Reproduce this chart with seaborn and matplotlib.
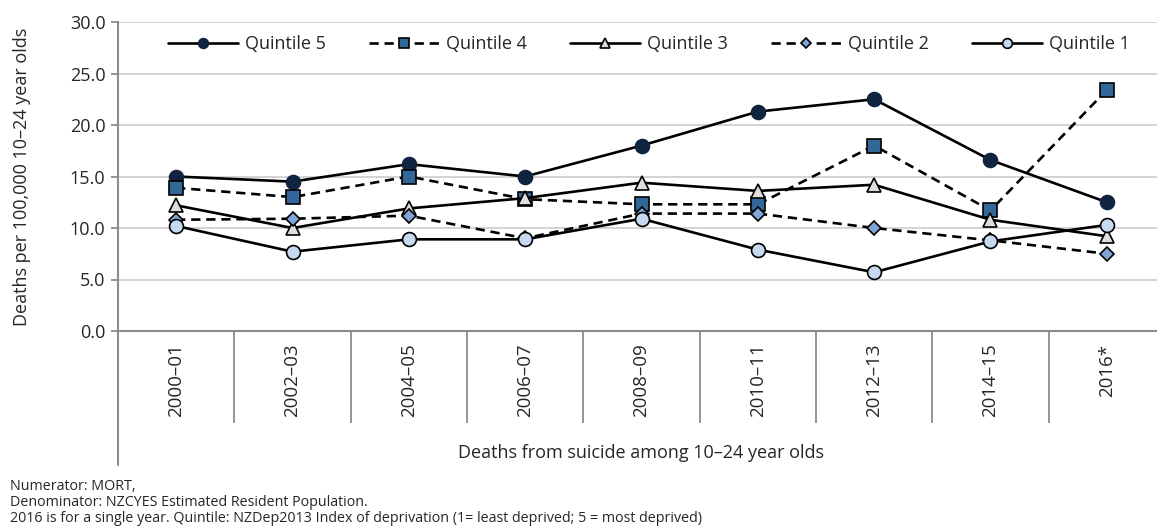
import pandas as pd
import seaborn as sns
import matplotlib.pyplot as plt

periods = ['2000–01', '2002–03', '2004–05', '2006–07', '2008–09',
           '2010–11', '2012–13', '2014–15', '2016*']
quintile_5 = [15.0, 14.5, 16.2, 15.0, 18.0, 21.3, 22.5, 16.6, 12.5]
quintile_4 = [13.9, 13.0, 15.0, 12.8, 12.3, 12.3, 18.0, 11.7, 23.4]
quintile_3 = [12.2, 10.0, 11.9, 12.9, 14.4, 13.6, 14.2, 10.8, 9.2]
quintile_2 = [10.8, 10.9, 11.2, 9.0, 11.4, 11.4, 10.0, 8.8, 7.5]
quintile_1 = [10.2, 7.7, 8.9, 8.9, 10.9, 7.9, 5.7, 8.7, 10.3]

sns.set_style('white')
plt.rcParams['font.family'] = ['Open Sans', 'DejaVu Sans']

fig = plt.figure(figsize=(11.57, 5.28), dpi=100)
ax = fig.add_axes([118 / 1157, 197 / 528, 1047 / 1157, 309 / 528])

df = pd.DataFrame({'pos': range(len(periods)), 'Quintile 5': quintile_5,
                   'Quintile 4': quintile_4, 'Quintile 3': quintile_3,
                   'Quintile 2': quintile_2, 'Quintile 1': quintile_1})

# series styles: marker, face colour, dashed?
styles = {
    'Quintile 5': ('o', '#10233F', False),
    'Quintile 4': ('s', '#336699', True),
    'Quintile 3': ('^', '#E0DEDB', False),
    'Quintile 2': ('D', '#7FA6D6', True),
    'Quintile 1': ('o', '#C6D9F0', False),
}
sizes = {'o': 10, 's': 10, '^': 10, 'D': 7.5}

for name, (mk, fc, dashed) in styles.items():
    sns.lineplot(data=df, x='pos', y=name, ax=ax, color='black', lw=1.9,
                 linestyle=(0, (3.5, 2.2)) if dashed else '-',
                 marker=mk, markersize=sizes[mk], markerfacecolor=fc,
                 markeredgecolor='black' if fc != '#10233F' else fc,
                 markeredgewidth=1.2, label=name, zorder=3)

ax.set_xlim(-0.5, 8.5)
ax.set_ylim(0, 30)
ax.set_yticks(range(0, 31, 5))
ax.set_yticklabels([f'{v:.1f}' for v in range(0, 31, 5)], fontsize=13)
ax.set_xticks(range(len(periods)))
ax.set_xticklabels(periods, rotation=90, fontsize=13.5, va='top')
ax.tick_params(axis='x', length=0, pad=9)
ax.set_xticks([i - 0.5 for i in range(len(periods) + 1)], minor=True)
ax.tick_params(axis='x', which='minor', length=66, width=1.3, color='#8C8C8C',
               direction='out', bottom=True)
ax.tick_params(axis='y', length=5, width=1.3, color='#8C8C8C', left=True,
               direction='out', pad=4)
ax.grid(axis='y', color='#D0D0D0', lw=1.3)
ax.grid(axis='x', visible=False)
for s in ['top', 'right']:
    ax.spines[s].set_visible(False)
for s in ['left', 'bottom']:
    ax.spines[s].set_color('#8C8C8C')
    ax.spines[s].set_linewidth(1.5)
ax.axvline(-0.5, ymin=-0.434, ymax=0, color='#8C8C8C', lw=1.5, clip_on=False)

ax.set_xlabel('Deaths from suicide among 10–24 year olds', fontsize=13,
              labelpad=12)
ax.set_ylabel('Deaths per 100,000 10–24 year olds', fontsize=13)
ax.yaxis.set_label_coords(-0.083, 0.5)

leg = ax.legend(loc='center', bbox_to_anchor=(0.507, 0.929), ncol=5,
                frameon=False, fontsize=13, handlelength=3.9,
                handletextpad=0.4, columnspacing=2.35, markerscale=0.7)

notes = ['Numerator: MORT,',
         'Denominator: NZCYES Estimated Resident Population.',
         '2016 is for a single year. Quintile: NZDep2013 Index of deprivation '
         '(1= least deprived; 5 = most deprived)']
for i, t in enumerate(notes):
    fig.text(10 / 1157, 1 - (486 + i * 16.5) / 528, t, fontsize=10.3,
             va='center', ha='left')

fig.savefig('out.png', dpi=100)
